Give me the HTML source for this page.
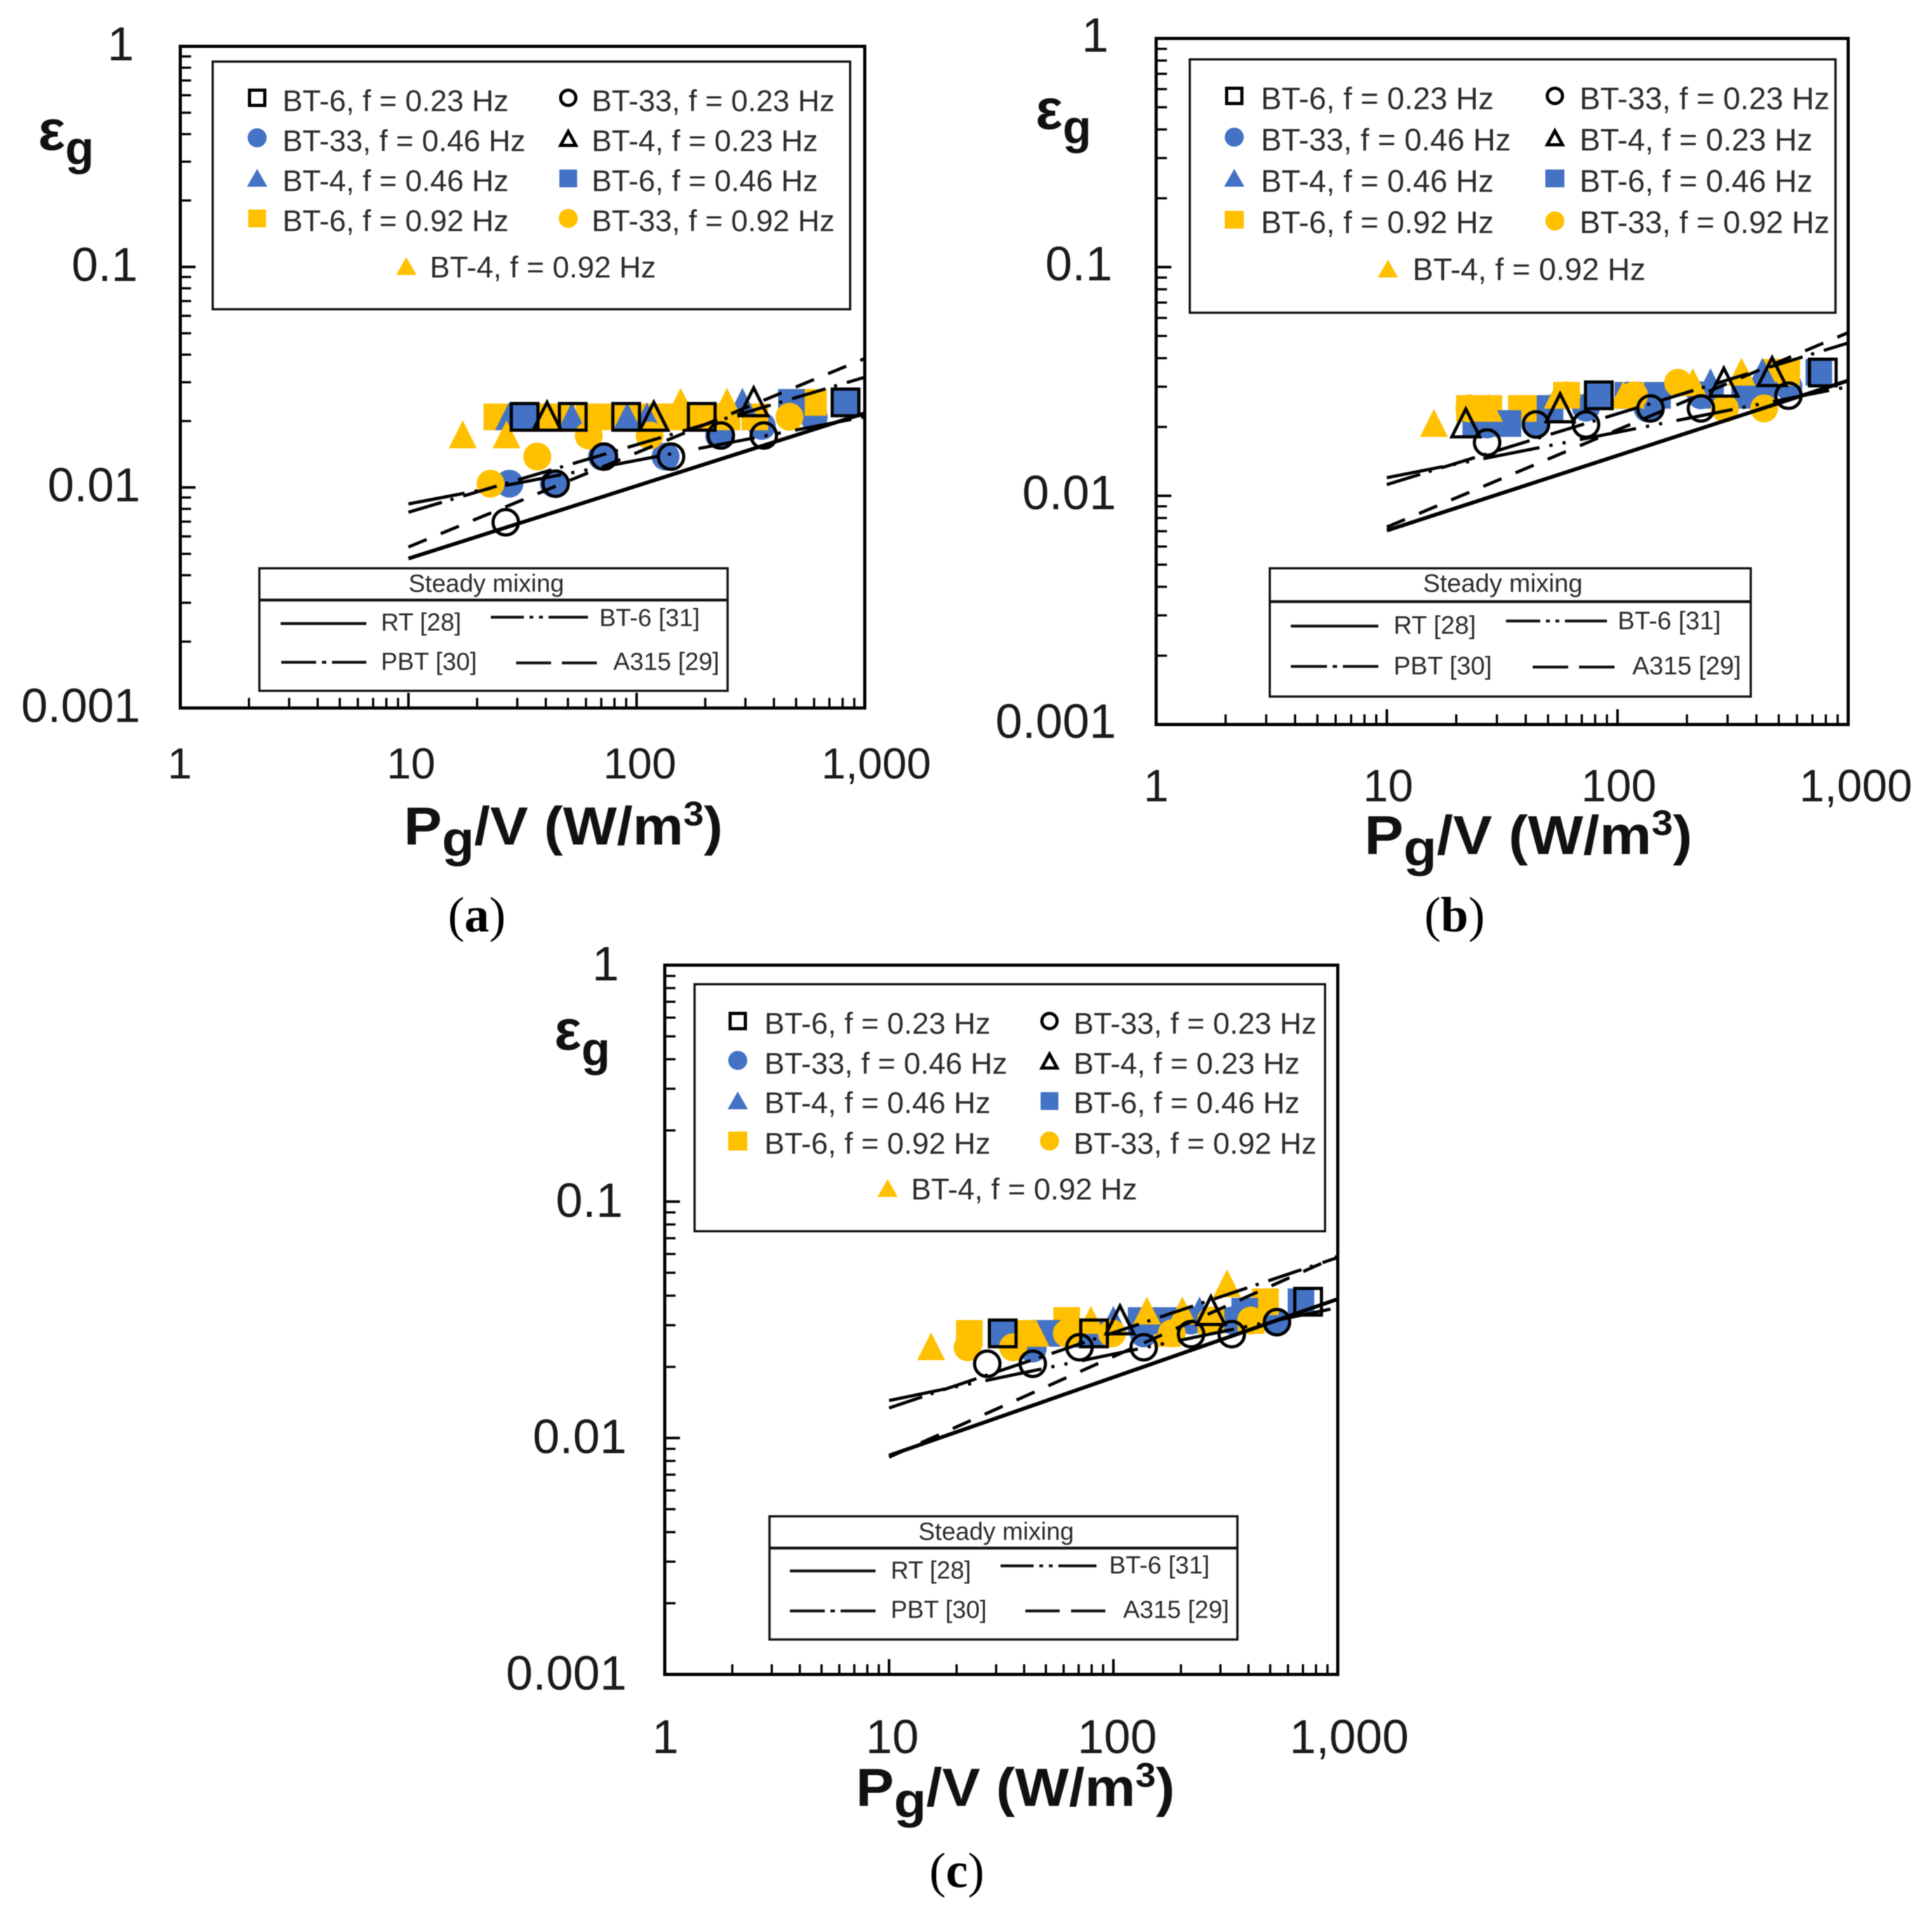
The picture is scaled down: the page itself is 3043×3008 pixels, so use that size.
<!DOCTYPE html>
<html lang="en">
<head>
<meta charset="utf-8">
<title>Gas hold-up versus specific power</title>
<style>
html,body{margin:0;padding:0;background:#fff;}
svg{display:block;filter:blur(0.8px);}
text{font-family:"Liberation Sans",sans-serif;fill:#1a1a1a;}
.leg{font-size:47.3px;fill:#2b2b2b;}
.stx{font-size:39px;fill:#2b2b2b;}
.ttl{font-weight:bold;fill:#111;}
.cap{font-family:"Liberation Serif",serif;font-size:78px;fill:#000;}
.box{fill:#fff;stroke:#111;stroke-width:3.5;}
.ln{stroke:#111;stroke-width:4.5;fill:none;}
.op{fill:none;stroke:#000;stroke-width:5;}
.bl{fill:#4472C4;}
.ye{fill:#FFC000;}
</style>
</head>
<body>
<svg id="fig" xmlns="http://www.w3.org/2000/svg" width="3043" height="3008" viewBox="0 0 3043 3008">
<rect width="3043" height="3008" fill="#fff"/>

<!-- PANEL A -->
<g id="panel-a"></g>
<g>
<rect class="box" x="335" y="97" width="1004" height="390"/>
<g transform="translate(405,154)"><rect class="op" x="-12" y="-12" width="24" height="24"/></g>
<text class="leg" x="445" y="175">BT-6, f = 0.23 Hz</text>
<g transform="translate(405,217)"><circle class="bl" r="15"/></g>
<text class="leg" x="445" y="238">BT-33, f = 0.46 Hz</text>
<g transform="translate(405,281)"><polygon class="bl" points="0,-15 16,13 -16,13"/></g>
<text class="leg" x="445" y="301">BT-4, f = 0.46 Hz</text>
<g transform="translate(405,344)"><rect class="ye" x="-14" y="-14" width="28" height="28"/></g>
<text class="leg" x="445" y="364">BT-6, f = 0.92 Hz</text>
<g transform="translate(895,154)"><circle class="op" r="12"/></g>
<text class="leg" x="932" y="175">BT-33, f = 0.23 Hz</text>
<g transform="translate(895,219)"><polygon class="op" points="0,-12 12,10 -12,10"/></g>
<text class="leg" x="932" y="238">BT-4, f = 0.23 Hz</text>
<g transform="translate(895,281)"><rect class="bl" x="-14" y="-14" width="28" height="28"/></g>
<text class="leg" x="932" y="301">BT-6, f = 0.46 Hz</text>
<g transform="translate(895,344)"><circle class="ye" r="15"/></g>
<text class="leg" x="932" y="364">BT-33, f = 0.92 Hz</text>
<g transform="translate(640,420)"><polygon class="ye" points="0,-15 16,13 -16,13"/></g>
<text class="leg" x="677" y="437">BT-4, f = 0.92 Hz</text>
</g>
<g>
<rect class="box" x="408.5" y="895" width="737.5" height="193"/>
<line class="ln" x1="408.5" y1="945" x2="1146" y2="945"/>
<text class="stx" x="766" y="932" text-anchor="middle">Steady mixing</text>
<line class="ln" x1="442" y1="982" x2="577" y2="982"/>
<text class="stx" x="600" y="993">RT [28]</text>
<line class="ln" x1="773" y1="972" x2="926" y2="972" stroke-dasharray="52 9 6 9 6 9 62 0"/>
<text class="stx" x="944" y="986">BT-6 [31]</text>
<line class="ln" x1="443" y1="1043" x2="577" y2="1043" stroke-dasharray="55 9 7 9 54 0"/>
<text class="stx" x="600" y="1055">PBT [30]</text>
<line class="ln" x1="813" y1="1044" x2="940" y2="1044" stroke-dasharray="55 17 55 0"/>
<text class="stx" x="966" y="1055">A315 [29]</text>
</g>
<text class="ttl" x="60" y="236" font-size="90">ε<tspan font-size="74" dy="23">g</tspan></text>
<text class="ttl" x="0" y="0" transform="translate(636 1330) scale(1.07 1)" font-size="84">P<tspan font-size="78" dy="18">g</tspan><tspan dy="-18">/V (W/m</tspan><tspan font-size="54" dy="-30">3</tspan><tspan dy="30">)</tspan></text>
<text class="cap" x="751" y="1467" text-anchor="middle">(<tspan font-weight="bold">a</tspan>)</text>

<!-- PANEL B -->
<g id="panel-b"></g>
<g>
<rect class="box" x="1874" y="93.5" width="1017" height="399"/>
<g transform="translate(1944,151)"><rect class="op" x="-12" y="-12" width="24" height="24"/></g>
<text class="leg" style="font-size:48.7px" x="1986" y="172">BT-6, f = 0.23 Hz</text>
<g transform="translate(1944,216)"><circle class="bl" r="15"/></g>
<text class="leg" style="font-size:48.7px" x="1986" y="237">BT-33, f = 0.46 Hz</text>
<g transform="translate(1944,281)"><polygon class="bl" points="0,-15 16,13 -16,13"/></g>
<text class="leg" style="font-size:48.7px" x="1986" y="302">BT-4, f = 0.46 Hz</text>
<g transform="translate(1944,346)"><rect class="ye" x="-15" y="-14" width="30" height="28"/></g>
<text class="leg" style="font-size:48.7px" x="1986" y="367">BT-6, f = 0.92 Hz</text>
<g transform="translate(2449,151)"><circle class="op" r="12"/></g>
<text class="leg" style="font-size:48.7px" x="2488" y="172">BT-33, f = 0.23 Hz</text>
<g transform="translate(2449,218)"><polygon class="op" points="0,-12 12,10 -12,10"/></g>
<text class="leg" style="font-size:48.7px" x="2488" y="237">BT-4, f = 0.23 Hz</text>
<g transform="translate(2449,281)"><rect class="bl" x="-15" y="-14" width="30" height="28"/></g>
<text class="leg" style="font-size:48.7px" x="2488" y="302">BT-6, f = 0.46 Hz</text>
<g transform="translate(2449,348)"><circle class="ye" r="15"/></g>
<text class="leg" style="font-size:48.7px" x="2488" y="367">BT-33, f = 0.92 Hz</text>
<g transform="translate(2186,424)"><polygon class="ye" points="0,-15 16,13 -16,13"/></g>
<text class="leg" style="font-size:48.7px" x="2225" y="441">BT-4, f = 0.92 Hz</text>
</g>
<g>
<rect class="box" x="2000" y="895" width="757.5" height="202"/>
<line class="ln" x1="2000" y1="947.5" x2="2757.5" y2="947.5"/>
<text class="stx" style="font-size:40px" x="2367" y="932" text-anchor="middle">Steady mixing</text>
<line class="ln" x1="2033" y1="986" x2="2171" y2="986"/>
<text class="stx" style="font-size:40px" x="2195" y="998">RT [28]</text>
<line class="ln" x1="2372" y1="978" x2="2531" y2="978" stroke-dasharray="54 9 6 9 6 9 66 0"/>
<text class="stx" style="font-size:40px" x="2548" y="991">BT-6 [31]</text>
<line class="ln" x1="2033" y1="1049.5" x2="2171" y2="1049.5" stroke-dasharray="57 9 7 9 56 0"/>
<text class="stx" style="font-size:40px" x="2195" y="1062">PBT [30]</text>
<line class="ln" x1="2414" y1="1050.5" x2="2543" y2="1050.5" stroke-dasharray="56 17 56 0"/>
<text class="stx" style="font-size:40px" x="2571" y="1062">A315 [29]</text>
</g>
<text class="ttl" x="1631" y="203" font-size="90">ε<tspan font-size="74" dy="23">g</tspan></text>
<text class="ttl" x="0" y="0" transform="translate(2149 1345) scale(1.073 1)" font-size="86">P<tspan font-size="80" dy="18">g</tspan><tspan dy="-18">/V (W/m</tspan><tspan font-size="56" dy="-30">3</tspan><tspan dy="30">)</tspan></text>
<text class="cap" x="2291" y="1467" text-anchor="middle">(<tspan font-weight="bold">b</tspan>)</text>

<!-- PANEL C -->
<g id="panel-c"></g>
<g>
<rect class="box" x="1094" y="1550" width="993" height="389"/>
<g transform="translate(1162,1608)"><rect class="op" x="-12" y="-12" width="24" height="24"/></g>
<text class="leg" x="1204" y="1628">BT-6, f = 0.23 Hz</text>
<g transform="translate(1162,1670)"><circle class="bl" r="15"/></g>
<text class="leg" x="1204" y="1691">BT-33, f = 0.46 Hz</text>
<g transform="translate(1162,1734)"><polygon class="bl" points="0,-15 16,13 -16,13"/></g>
<text class="leg" x="1204" y="1753">BT-4, f = 0.46 Hz</text>
<g transform="translate(1162,1797)"><rect class="ye" x="-15" y="-15" width="30" height="30"/></g>
<text class="leg" x="1204" y="1817">BT-6, f = 0.92 Hz</text>
<g transform="translate(1653,1608)"><circle class="op" r="12"/></g>
<text class="leg" x="1691" y="1628">BT-33, f = 0.23 Hz</text>
<g transform="translate(1653,1672)"><polygon class="op" points="0,-12 12,10 -12,10"/></g>
<text class="leg" x="1691" y="1691">BT-4, f = 0.23 Hz</text>
<g transform="translate(1653,1734)"><rect class="bl" x="-14" y="-14" width="28" height="28"/></g>
<text class="leg" x="1691" y="1753">BT-6, f = 0.46 Hz</text>
<g transform="translate(1653,1797)"><circle class="ye" r="15"/></g>
<text class="leg" x="1691" y="1817">BT-33, f = 0.92 Hz</text>
<g transform="translate(1398,1872)"><polygon class="ye" points="0,-15 16,13 -16,13"/></g>
<text class="leg" x="1435" y="1889">BT-4, f = 0.92 Hz</text>
</g>
<g>
<rect class="box" x="1212" y="2388" width="737" height="194"/>
<line class="ln" x1="1212" y1="2438" x2="1949" y2="2438"/>
<text class="stx" x="1569" y="2425" text-anchor="middle">Steady mixing</text>
<line class="ln" x1="1244" y1="2474" x2="1379" y2="2474"/>
<text class="stx" x="1403" y="2486">RT [28]</text>
<line class="ln" x1="1576" y1="2466" x2="1727" y2="2466" stroke-dasharray="52 9 6 9 6 9 60 0"/>
<text class="stx" x="1747" y="2478">BT-6 [31]</text>
<line class="ln" x1="1244" y1="2537" x2="1379" y2="2537" stroke-dasharray="55 9 7 9 55 0"/>
<text class="stx" x="1403" y="2548">PBT [30]</text>
<line class="ln" x1="1615" y1="2537" x2="1741" y2="2537" stroke-dasharray="54 18 54 0"/>
<text class="stx" x="1769" y="2548">A315 [29]</text>
</g>
<text class="ttl" x="873" y="1653" font-size="90">ε<tspan font-size="74" dy="25">g</tspan></text>
<text class="ttl" x="0" y="0" transform="translate(1348 2844) scale(1.07 1)" font-size="84">P<tspan font-size="78" dy="18">g</tspan><tspan dy="-18">/V (W/m</tspan><tspan font-size="54" dy="-30">3</tspan><tspan dy="30">)</tspan></text>
<text class="cap" x="1507" y="2972" text-anchor="middle">(<tspan font-weight="bold">c</tspan>)</text>
</svg>

<script>
// Shared axis values
const xTickValues = [1, 10, 100, 1000];
const xTickLabels = ['1', '10', '100', '1,000'];
const yTickValues = [1, 0.1, 0.01, 0.001];
const yTickLabels = ['1', '0.1', '0.01', '0.001'];
const minorMultipliers = [2, 3, 4, 5, 6, 7, 8, 9];
const correlationX = [10, 1000];

// Panel (a) values
const aRtY = [0.00476, 0.0217];
const aA315Y = [0.00537, 0.0384];
const aPbtY = [0.00772, 0.0316];
const aBt6Y = [0.00842, 0.0209];
const aYellowSquareX = [24.4, 31, 38, 47, 62, 74, 88, 105, 125, 148, 176, 210, 249, 330, 500, 596];
const aYellowSquareY = [0.0209, 0.0209, 0.0209, 0.0209, 0.0209, 0.0209, 0.0209, 0.0209, 0.0209, 0.0209, 0.0209, 0.0209, 0.0209, 0.0209, 0.0243, 0.0243];
const aBlueTriangleX = [27.6, 52, 91, 111, 291];
const aBlueTriangleY = [0.0209, 0.0209, 0.0209, 0.0209, 0.0243];
const aBlueSquareX = [32.2, 477, 824];
const aBlueSquareY = [0.0209, 0.0243, 0.0243];
const aBlueCircleX = [27.7, 43.4, 70.5, 134, 230, 354, 598];
const aBlueCircleY = [0.0104, 0.0104, 0.0138, 0.0138, 0.0172, 0.019, 0.0209];
const aYellowCircleX = [22.9, 36.7, 61.7, 114, 468];
const aYellowCircleY = [0.0104, 0.0138, 0.0172, 0.0172, 0.0209];
const aYellowTriangleX = [17.3, 26.9, 156, 249];
const aYellowTriangleY = [0.0173, 0.0173, 0.0243, 0.0243];
const aOpenSquareX = [32.3, 52.5, 90, 193, 824];
const aOpenSquareY = [0.0209, 0.0209, 0.0209, 0.0209, 0.0243];
const aOpenTriangleX = [40.5, 119, 326];
const aOpenTriangleY = [0.0209, 0.0209, 0.0243];
const aOpenCircleX = [26.7, 44.2, 71.9, 141.6, 234, 361];
const aOpenCircleY = [0.00695, 0.0104, 0.0138, 0.0138, 0.0172, 0.0172];

// Panel (b) values
const bRtY = [0.00705, 0.0319];
const bA315Y = [0.0073, 0.0517];
const bPbtY = [0.0112, 0.0466];
const bBt6Y = [0.012, 0.03];
const bYellowSquareX = [22.8, 27.7, 38.3, 42.2, 60.1, 118, 149, 492, 541];
const bYellowSquareY = [0.0241, 0.0241, 0.0241, 0.0241, 0.0275, 0.0275, 0.0275, 0.0347, 0.0347];
const bBlueTriangleX = [51, 111, 212, 253, 425];
const bBlueTriangleY = [0.0241, 0.0275, 0.0312, 0.0312, 0.0347];
const bBlueSquareX = [24.3, 33.5, 51, 83, 111, 149, 253, 356, 432, 746];
const bBlueSquareY = [0.0207, 0.0207, 0.0241, 0.0275, 0.0275, 0.0275, 0.0275, 0.0275, 0.0275, 0.0347];
const bBlueCircleX = [27.2, 44.3, 73, 135, 230, 551];
const bBlueCircleY = [0.0205, 0.0205, 0.0243, 0.0241, 0.0275, 0.0301];
const bYellowCircleX = [22.8, 60.1, 118, 183, 292, 432];
const bYellowCircleY = [0.0241, 0.0275, 0.0275, 0.0312, 0.0241, 0.0241];
const bYellowTriangleX = [16, 27.7, 55, 106, 212, 345];
const bYellowTriangleY = [0.0207, 0.0241, 0.0275, 0.0275, 0.0312, 0.0347];
const bOpenSquareX = [83, 776];
const bOpenSquareY = [0.0275, 0.0346];
const bOpenTriangleX = [22, 56.4, 289, 468];
const bOpenTriangleY = [0.0207, 0.0241, 0.0312, 0.0347];
const bOpenCircleX = [27.2, 44.3, 73, 139, 230, 551];
const bOpenCircleY = [0.0171, 0.0205, 0.0205, 0.0241, 0.0241, 0.0274];

// Panel (c) values
const cRtY = [0.00843, 0.0387];
const cA315Y = [0.0083, 0.0588];
const cPbtY = [0.0134, 0.058];
const cBt6Y = [0.0144, 0.0356];
const cYellowSquareX = [22.8, 40, 61.9, 174, 272, 411, 476];
const cYellowSquareY = [0.0277, 0.0277, 0.0314, 0.0277, 0.0314, 0.0314, 0.0377];
const cBlueTriangleX = [100, 242];
const cBlueTriangleY = [0.0314, 0.0344];
const cBlueSquareX = [32.1, 50.7, 82, 133, 174, 385, 686];
const cBlueSquareY = [0.0277, 0.0277, 0.0277, 0.0314, 0.0314, 0.0344, 0.0377];
const cBlueCircleX = [43.7, 70.6, 136.5, 222, 337, 530];
const cBlueCircleY = [0.0239, 0.0275, 0.0277, 0.0314, 0.0314, 0.0309];
const cYellowCircleX = [22.4, 35.7, 62, 98.5, 182, 272, 411];
const cYellowCircleY = [0.0242, 0.0242, 0.0277, 0.0277, 0.0277, 0.0314, 0.0314];
const cYellowTriangleX = [15.4, 45, 79.4, 141, 203, 321];
const cYellowTriangleY = [0.0243, 0.0277, 0.0314, 0.0344, 0.0344, 0.0448];
const cOpenSquareX = [32.1, 82, 738];
const cOpenSquareY = [0.0277, 0.0277, 0.0377];
const cOpenTriangleX = [107, 272];
const cOpenTriangleY = [0.0314, 0.0344];
const cOpenCircleX = [27.4, 43.7, 70.6, 136.5, 222, 337, 536];
const cOpenCircleY = [0.0206, 0.0206, 0.0242, 0.0242, 0.0275, 0.0275, 0.0309];

const SVGNS = 'http://www.w3.org/2000/svg';
const correlationStyles = {
  rt: {w: 6, dash: null},
  a315: {w: 5, dash: '31 24'},
  pbt: {w: 5, dash: '55 14 5 16'},
  bt6: {w: 5, dash: '90 16 5 16 5 23'}
};

function make(tag, attrs, parent) {
  const el = document.createElementNS(SVGNS, tag);
  for (const k in attrs) el.setAttribute(k, attrs[k]);
  parent.appendChild(el);
  return el;
}

function drawPanel(cfg) {
  const root = document.getElementById(cfg.id);
  const decX = (cfg.right - cfg.left) / 3;
  const decY = (cfg.bottom - cfg.top) / 3;
  const sx = v => cfg.left + Math.log10(v) * decX;
  const sy = v => cfg.top - Math.log10(v) * decY;

  const frame = make('rect', {x: cfg.left, y: cfg.top, width: cfg.right - cfg.left, height: cfg.bottom - cfg.top, fill: 'none', stroke: '#000', 'stroke-width': 5}, root);
  
  

  // ticks
  for (let d = 0; d < 3; d++) {
    const xv = xTickValues[d];
    const yv = yTickValues[d + 1];
    if (d > 0) {
      const maj = make('line', {x1: sx(xv), x2: sx(xv), y1: cfg.bottom, y2: cfg.bottom - 24, stroke: '#000', 'stroke-width': 4}, root);
      
      
    }
    const majY = make('line', {x1: cfg.left, x2: cfg.left + 24, y1: sy(yv * 10), y2: sy(yv * 10), stroke: '#000', 'stroke-width': 4}, root);
    
    
    minorMultipliers.forEach(m => {
      const tx = make('line', {x1: sx(xv * m), x2: sx(xv * m), y1: cfg.bottom, y2: cfg.bottom - 16, stroke: '#000', 'stroke-width': 3.5}, root);
      
      
      const ty = make('line', {x1: cfg.left, x2: cfg.left + 17, y1: sy(yv * m), y2: sy(yv * m), stroke: '#000', 'stroke-width': 3.5}, root);
      
      
    });
  }

  // tick labels
  xTickValues.forEach((v, i) => {
    const t = make('text', {x: sx(v) + cfg.xLabelDx[i], y: cfg.xLabelY, 'text-anchor': 'middle', 'font-size': cfg.xLabelSize}, root);
    
    
    t.textContent = xTickLabels[i];
  });
  yTickValues.forEach((v, i) => {
    const t = make('text', {x: cfg.yLabelRight + cfg.yLabelDx[i], y: sy(v) + cfg.yLabelDy, 'text-anchor': 'end', 'font-size': cfg.yLabelSize}, root);
    
    
    t.textContent = yTickLabels[i];
  });

  const square = (xs, ys, cls, name) => xs.forEach((v, i) => {
    const s = make('rect', {x: sx(v) - 21, y: sy(ys[i]) - 21, width: 42, height: 42, class: cls}, root);
    
    
  });
  const circle = (xs, ys, cls, name) => xs.forEach((v, i) => {
    const c = make('circle', {cx: sx(v), cy: sy(ys[i]), r: cls === 'op' ? 20 : 22, class: cls}, root);
    
    
  });
  const triangle = (xs, ys, cls, name) => xs.forEach((v, i) => {
    const px = sx(v), py = sy(ys[i]);
    const p = make('polygon', {points: (px) + ',' + (py - 23) + ' ' + (px + 22) + ',' + (py + 21) + ' ' + (px - 22) + ',' + (py + 21), class: cls}, root);
    
    
  });

  // filled markers
  circle(cfg.blueCircleX, cfg.blueCircleY, 'bl', 'bt33-046hz-point');
  square(cfg.yellowSquareX, cfg.yellowSquareY, 'ye', 'bt6-092hz-point');
  triangle(cfg.blueTriangleX, cfg.blueTriangleY, 'bl', 'bt4-046hz-point');
  square(cfg.blueSquareX, cfg.blueSquareY, 'bl', 'bt6-046hz-point');
  circle(cfg.yellowCircleX, cfg.yellowCircleY, 'ye', 'bt33-092hz-point');
  triangle(cfg.yellowTriangleX, cfg.yellowTriangleY, 'ye', 'bt4-092hz-point');

  // correlation lines
  cfg.lines.forEach(l => {
    const st = correlationStyles[l.key];
    const ln = make('line', {x1: sx(correlationX[0]), y1: sy(l.y[0]), x2: sx(correlationX[1]), y2: sy(l.y[1]), stroke: '#000', 'stroke-width': st.w}, root);
    if (st.dash) ln.setAttribute('stroke-dasharray', st.dash);
    
    
  });

  // open markers
  square(cfg.openSquareX, cfg.openSquareY, 'op', 'bt6-023hz-point');
  triangle(cfg.openTriangleX, cfg.openTriangleY, 'op', 'bt4-023hz-point');
  circle(cfg.openCircleX, cfg.openCircleY, 'op', 'bt33-023hz-point');
}

drawPanel({
  id: 'panel-a', left: 284, right: 1362, top: 73, bottom: 1115,
  xLabelDx: [-1, 4, 5, 18], xLabelY: 1226, xLabelSize: 69, yLabelRight: 219, yLabelDx: [-8, -2, 2, 2], yLabelDy: 22, yLabelSize: 75,
  lines: [{key: 'rt', y: aRtY}, {key: 'a315', y: aA315Y}, {key: 'pbt', y: aPbtY}, {key: 'bt6', y: aBt6Y}],
  yellowSquareX: aYellowSquareX, yellowSquareY: aYellowSquareY,
  blueTriangleX: aBlueTriangleX, blueTriangleY: aBlueTriangleY,
  blueSquareX: aBlueSquareX, blueSquareY: aBlueSquareY,
  blueCircleX: aBlueCircleX, blueCircleY: aBlueCircleY,
  yellowCircleX: aYellowCircleX, yellowCircleY: aYellowCircleY,
  yellowTriangleX: aYellowTriangleX, yellowTriangleY: aYellowTriangleY,
  openSquareX: aOpenSquareX, openSquareY: aOpenSquareY,
  openTriangleX: aOpenTriangleX, openTriangleY: aOpenTriangleY,
  openCircleX: aOpenCircleX, openCircleY: aOpenCircleY
});
drawPanel({
  id: 'panel-b', left: 1821, right: 2911, top: 60.5, bottom: 1141,
  xLabelDx: [0, 2, 2, 12], xLabelY: 1262, xLabelSize: 71, yLabelRight: 1754, yLabelDx: [-8, -2, 4, 4], yLabelDy: 21, yLabelSize: 76,
  lines: [{key: 'rt', y: bRtY}, {key: 'a315', y: bA315Y}, {key: 'pbt', y: bPbtY}, {key: 'bt6', y: bBt6Y}],
  yellowSquareX: bYellowSquareX, yellowSquareY: bYellowSquareY,
  blueTriangleX: bBlueTriangleX, blueTriangleY: bBlueTriangleY,
  blueSquareX: bBlueSquareX, blueSquareY: bBlueSquareY,
  blueCircleX: bBlueCircleX, blueCircleY: bBlueCircleY,
  yellowCircleX: bYellowCircleX, yellowCircleY: bYellowCircleY,
  yellowTriangleX: bYellowTriangleX, yellowTriangleY: bYellowTriangleY,
  openSquareX: bOpenSquareX, openSquareY: bOpenSquareY,
  openTriangleX: bOpenTriangleX, openTriangleY: bOpenTriangleY,
  openCircleX: bOpenCircleX, openCircleY: bOpenCircleY
});
drawPanel({
  id: 'panel-c', left: 1047, right: 2107, top: 1520, bottom: 2637,
  xLabelDx: [1, 5, 6, 18], xLabelY: 2761, xLabelSize: 75, yLabelRight: 983, yLabelDx: [-8, -2, 4, 4], yLabelDy: 24, yLabelSize: 76,
  lines: [{key: 'rt', y: cRtY}, {key: 'a315', y: cA315Y}, {key: 'pbt', y: cPbtY}, {key: 'bt6', y: cBt6Y}],
  yellowSquareX: cYellowSquareX, yellowSquareY: cYellowSquareY,
  blueTriangleX: cBlueTriangleX, blueTriangleY: cBlueTriangleY,
  blueSquareX: cBlueSquareX, blueSquareY: cBlueSquareY,
  blueCircleX: cBlueCircleX, blueCircleY: cBlueCircleY,
  yellowCircleX: cYellowCircleX, yellowCircleY: cYellowCircleY,
  yellowTriangleX: cYellowTriangleX, yellowTriangleY: cYellowTriangleY,
  openSquareX: cOpenSquareX, openSquareY: cOpenSquareY,
  openTriangleX: cOpenTriangleX, openTriangleY: cOpenTriangleY,
  openCircleX: cOpenCircleX, openCircleY: cOpenCircleY
});
</script>
</body>
</html>
